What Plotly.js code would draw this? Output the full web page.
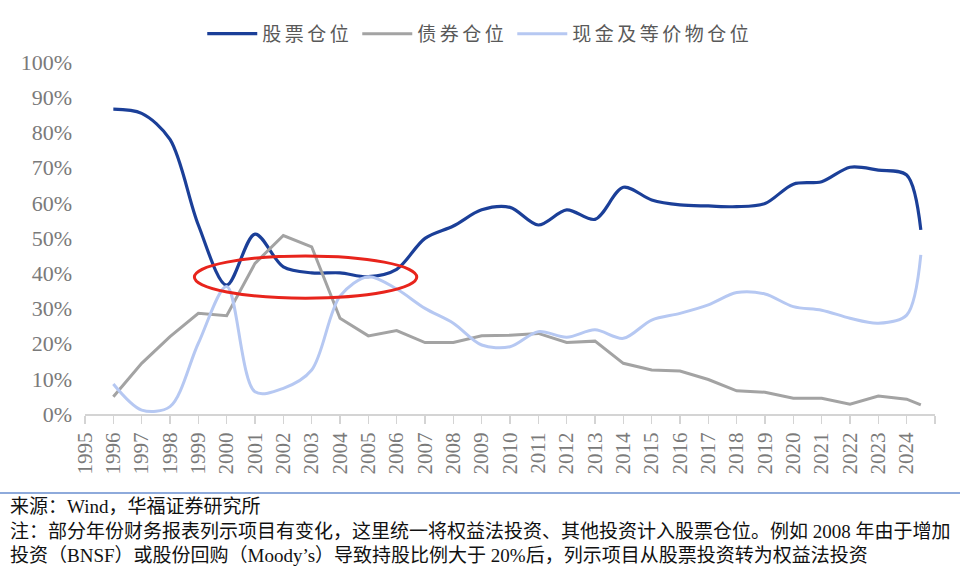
<!DOCTYPE html>
<html>
<head>
<meta charset="utf-8">
<script src="https://cdn.plot.ly/plotly-3.0.1.min.js"></script>
<style>
html,body{margin:0;padding:0;background:#fff;}
#chart{width:960px;height:569px;}
.legendtext{letter-spacing:3.5px;}
</style>
</head>
<body>
<div id="chart"></div>
<script>
// Years (last point is a mid-2024 reading)
const years = [1996,1997,1998,1999,2000,2001,2002,2003,2004,2005,2006,2007,2008,2009,2010,2011,2012,2013,2014,2015,2016,2017,2018,2019,2020,2021,2022,2023,2024,2024.5];
// 股票仓位 (%)
const stock = [86.6,85.4,78.0,53.7,36.6,51.1,41.8,40.1,40.1,39.0,41.1,49.9,53.4,58.0,58.7,53.7,58.0,55.3,64.4,60.8,59.4,59.1,58.9,59.8,65.3,66.0,70.1,69.3,67.9,52.3];
// 债券仓位 (%)
const bond = [4.9,14.4,22.0,28.6,27.9,42.8,50.7,47.5,27.2,22.2,23.7,20.3,20.3,22.2,22.4,22.9,20.3,20.7,14.4,12.5,12.2,9.8,6.6,6.2,4.5,4.5,2.8,5.1,4.2,2.6];
// 现金及等价物仓位 (%)
const cash = [8.5,1.1,2.1,20.1,36.2,6.3,7.3,12.5,33.5,39.0,35.5,30.0,25.8,19.6,19.1,23.4,21.8,23.9,21.5,26.7,28.6,31.0,34.5,34.1,30.5,29.5,27.2,25.8,28.1,45.2];

const seriesNames = ['股票仓位','债券仓位','现金及等价物仓位'];
const tickYears = [1995,1996,1997,1998,1999,2000,2001,2002,2003,2004,2005,2006,2007,2008,2009,2010,2011,2012,2013,2014,2015,2016,2017,2018,2019,2020,2021,2022,2023,2024,2025];
const tickLabels = ['1995','1996','1997','1998','1999','2000','2001','2002','2003','2004','2005','2006','2007','2008','2009','2010','2011','2012','2013','2014','2015','2016','2017','2018','2019','2020','2021','2022','2023','2024',''];
const yTicks = [0,10,20,30,40,50,60,70,80,90,100];
const yLabels = ['0%','10%','20%','30%','40%','50%','60%','70%','80%','90%','100%'];

const sourceText = '来源：Wind，华福证券研究所';
const noteLine1 = '注：部分年份财务报表列示项目有变化，这里统一将权益法投资、其他投资计入股票仓位。例如 2008 年由于增加';
const noteLine2 = '投资（BNSF）或股份回购（Moody’s）导致持股比例大于 20%后，列示项目从股票投资转为权益法投资';

// highlight ellipse extent (years, %)
const ellipseX = [1998.86, 2006.71];
const ellipseY = [32.9, 44.9];

const traces = [
  {x: years, y: stock, name: seriesNames[0], type: 'scatter', mode: 'lines',
   line: {color: '#1b3f98', width: 3.2, shape: 'spline', smoothing: 0.9}},
  {x: years, y: bond, name: seriesNames[1], type: 'scatter', mode: 'lines',
   line: {color: '#a3a3a3', width: 3, shape: 'linear'}},
  {x: years, y: cash, name: seriesNames[2], type: 'scatter', mode: 'lines',
   line: {color: '#b6c8f2', width: 3, shape: 'spline', smoothing: 0.9}}
];

const serif = 'Liberation Serif';
const cjk = 'Noto Sans CJK SC';
const footFont = 'Liberation Serif, Noto Sans CJK SC';

const layout = {
  width: 960, height: 569,
  font: {family: serif},
  margin: {l: 85, r: 25, t: 62, b: 155},
  paper_bgcolor: '#ffffff', plot_bgcolor: '#ffffff',
  showlegend: true,
  legend: {orientation: 'h', x: 0.465, xanchor: 'center', y: 1.08, yanchor: 'middle',
           font: {family: cjk, size: 19, color: '#595959'}, itemwidth: 50, tracegroupgap: 0},
  xaxis: {type: 'linear', range: [1995, 2025], tickmode: 'array', tickvals: tickYears, ticktext: tickLabels,
          tickangle: -90, tickfont: {family: serif, size: 21, color: '#7a7a7a'},
          showgrid: false, zeroline: false, showline: true, linecolor: '#d4d4d4', linewidth: 2,
          ticks: 'outside', ticklen: 8, tickcolor: '#d4d4d4', tickwidth: 1.5, fixedrange: true},
  yaxis: {range: [0, 100], tickmode: 'array', tickvals: yTicks, ticktext: yLabels,
          tickfont: {family: serif, size: 22, color: '#7a7a7a'},
          showgrid: false, zeroline: false, showline: false, ticks: '', ticklabelstandoff: 12, fixedrange: true},
  shapes: [
    {type: 'circle', xref: 'x', yref: 'y', x0: ellipseX[0], x1: ellipseX[1], y0: ellipseY[0], y1: ellipseY[1],
     line: {color: '#e8241c', width: 3}},
    {type: 'line', xref: 'paper', yref: 'paper', x0: -0.1, x1: 1.03, y0: -0.2244, y1: -0.2244,
     line: {color: '#8eaadb', width: 2}}
  ],
  annotations: [
    {text: sourceText, xref: 'paper', yref: 'paper', x: -0.0906, y: -0.2642, xanchor: 'left', yanchor: 'middle',
     showarrow: false, font: {family: footFont, size: 19, color: '#111111'}},
    {text: noteLine1, xref: 'paper', yref: 'paper', x: -0.0906, y: -0.3324, xanchor: 'left', yanchor: 'middle',
     showarrow: false, font: {family: footFont, size: 19, color: '#111111'}},
    {text: noteLine2, xref: 'paper', yref: 'paper', x: -0.0906, y: -0.4034, xanchor: 'left', yanchor: 'middle',
     showarrow: false, font: {family: footFont, size: 19, color: '#111111'}}
  ]
};

Plotly.newPlot('chart', traces, layout, {displayModeBar: false, staticPlot: true});
</script>
</body>
</html>
